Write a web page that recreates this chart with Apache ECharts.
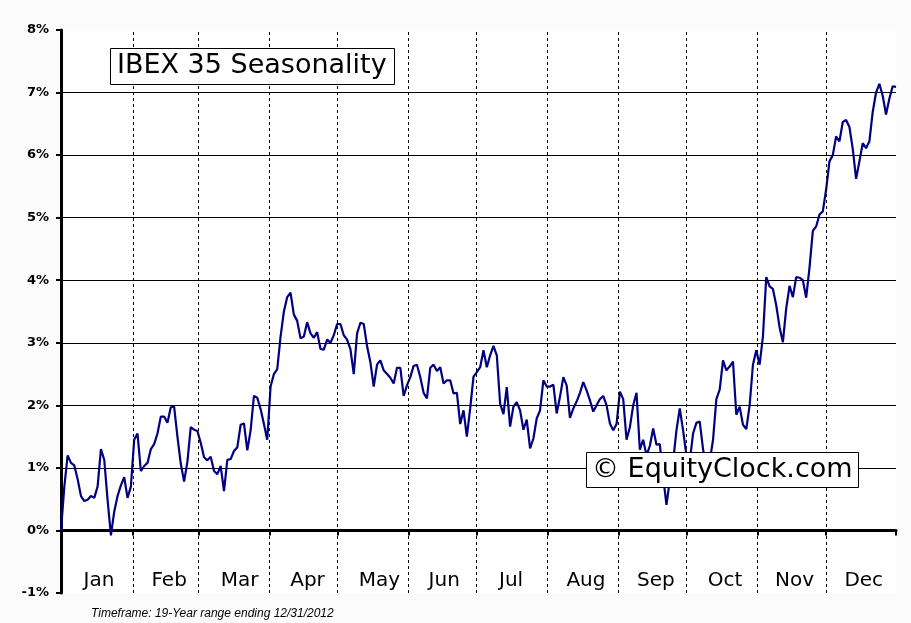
<!DOCTYPE html>
<html>
<head>
<meta charset="utf-8">
<script src="https://cdn.jsdelivr.net/npm/echarts/dist/echarts.min.js"></script>
<style>
html,body{margin:0;padding:0;background:#fbfbfb;}
#chart{width:911px;height:623px;}
</style>
</head>
<body>
<div id="chart"></div>
<script>
// Seasonal cumulative return (%), one value per trading day
const values = [
 0.0,0.7,1.2,1.08,1.04,0.82,0.55,0.47,0.49,0.55,0.52,0.7,1.3,1.13,0.49,-0.08,0.3,0.55,0.72,0.85,
 0.52,0.7,1.45,1.55,0.95,1.03,1.08,1.3,1.38,1.55,1.82,1.82,1.72,1.97,1.98,1.5,1.07,0.78,1.1,1.65,
 1.61,1.59,1.4,1.17,1.12,1.18,0.95,0.9,1.03,0.63,1.13,1.14,1.27,1.33,1.69,1.71,1.28,1.6,2.15,2.12,
 1.94,1.7,1.45,2.3,2.5,2.58,3.1,3.5,3.73,3.8,3.45,3.35,3.07,3.1,3.33,3.15,3.08,3.17,2.9,2.89,
 3.05,3.0,3.12,3.3,3.3,3.12,3.05,2.9,2.5,3.15,3.32,3.3,2.95,2.69,2.3,2.65,2.72,2.56,2.5,2.44,
 2.35,2.6,2.6,2.15,2.32,2.45,2.63,2.65,2.45,2.2,2.11,2.6,2.65,2.55,2.61,2.35,2.4,2.4,2.19,2.2,
 1.7,1.92,1.5,1.95,2.46,2.53,2.61,2.88,2.61,2.8,2.95,2.8,2.03,1.86,2.29,1.66,1.98,2.05,1.92,1.61,
 1.77,1.31,1.47,1.79,1.92,2.4,2.3,2.3,2.33,1.87,2.14,2.45,2.32,1.8,1.95,2.06,2.2,2.37,2.24,2.08,
 1.9,2.0,2.1,2.15,2.0,1.71,1.6,1.7,2.22,2.1,1.45,1.65,2.0,2.2,1.29,1.45,1.2,1.35,1.63,1.37,
 1.38,0.86,0.41,0.8,1.1,1.6,1.95,1.6,1.2,1.1,1.55,1.72,1.74,1.3,1.0,1.1,1.45,2.1,2.25,2.72,
 2.56,2.62,2.7,1.85,1.98,1.69,1.62,2.0,2.65,2.88,2.65,3.1,4.05,3.9,3.86,3.6,3.25,3.01,3.55,3.91,
 3.73,4.05,4.04,4.0,3.72,4.2,4.79,4.86,5.05,5.1,5.45,5.9,6.0,6.3,6.22,6.53,6.56,6.45,6.1,5.62,
 5.9,6.19,6.11,6.22,6.69,7.0,7.14,6.95,6.65,6.9,7.1,7.09
];
const monthNames = ['Jan','Feb','Mar','Apr','May','Jun','Jul','Aug','Sep','Oct','Nov','Dec'];
// month boundaries in trading-day units
const monthBounds = [21.6,41.4,62.6,83.1,104.4,124.9,146.2,167.6,188.0,209.4,229.9];
const labelPos = [11.4,32.5,53.7,74.1,95.7,115.2,135.3,157.8,178.8,199.6,220.5,241.3];
const lastDay = values.length - 1;
const titleText = 'IBEX 35 Seasonality';
const sourceText = '\u00A9 EquityClock.com';
const footText = 'Timeframe: 19-Year range ending 12/31/2012';

const chart = echarts.init(document.getElementById('chart'), null, {renderer:'canvas'});
chart.setOption({
  animation:false,
  backgroundColor:'#fbfbfb',
  title:[
    {text:titleText,left:110,top:48,padding:[2,8,3,7],borderColor:'#000',borderWidth:1,backgroundColor:'#fff',
     textStyle:{fontFamily:'DejaVu Sans',fontSize:27,fontWeight:'normal',color:'#000',lineHeight:32}},
    {text:sourceText,left:586,top:452,padding:[2,6,3,6],borderColor:'#000',borderWidth:1,backgroundColor:'#fff',
     textStyle:{fontFamily:'DejaVu Sans',fontSize:27,fontWeight:'normal',color:'#000',lineHeight:31}},
    {text:footText,left:91,top:608,padding:0,
     textStyle:{fontFamily:'Liberation Sans',fontSize:12,fontStyle:'italic',fontWeight:'normal',color:'#000'}}
  ],
  grid:{left:61,right:15,top:30,bottom:30,outerBoundsMode:'none',containLabel:false,show:true,backgroundColor:'#fff',borderWidth:0},
  xAxis:{
    type:'value',min:0,max:lastDay,
    axisLine:{show:true,onZero:true,lineStyle:{color:'#000',width:3}},
    axisTick:{show:true,inside:false,length:5,customValues:[0].concat(monthBounds,[lastDay]),lineStyle:{color:'#000',width:2}},
    axisLabel:{show:true,margin:-22,customValues:labelPos,
      formatter:function(v){const k=labelPos.indexOf(v);return k>=0?monthNames[k]:'';},
      fontFamily:'DejaVu Sans',fontSize:20,color:'#000'},
    splitLine:{show:false}
  },
  yAxis:{
    type:'value',min:-1,max:8,interval:1,
    axisLine:{show:true,onZero:false,lineStyle:{color:'#000',width:3}},
    axisTick:{show:true,inside:false,length:5,lineStyle:{color:'#000',width:2}},
    axisLabel:{margin:12,formatter:'{value}%',fontFamily:'DejaVu Sans',fontWeight:'bold',fontSize:13,color:'#000'},
    splitLine:{show:true,showMinLine:false,showMaxLine:false,lineStyle:{color:'#000',width:1}}
  },
  series:[{
    type:'line',
    data:values.map((v,i)=>[i,v]),
    showSymbol:false,symbol:'none',
    lineStyle:{color:'#000080',width:2.2},
    itemStyle:{color:'#000080'},
    z:3,
    markLine:{
      silent:true,symbol:['none','none'],
      label:{show:false},
      lineStyle:{color:'#000',width:1,type:[3,3]},
      data:monthBounds.map(b=>({xAxis:b}))
    }
  }]
});
</script>
</body>
</html>
